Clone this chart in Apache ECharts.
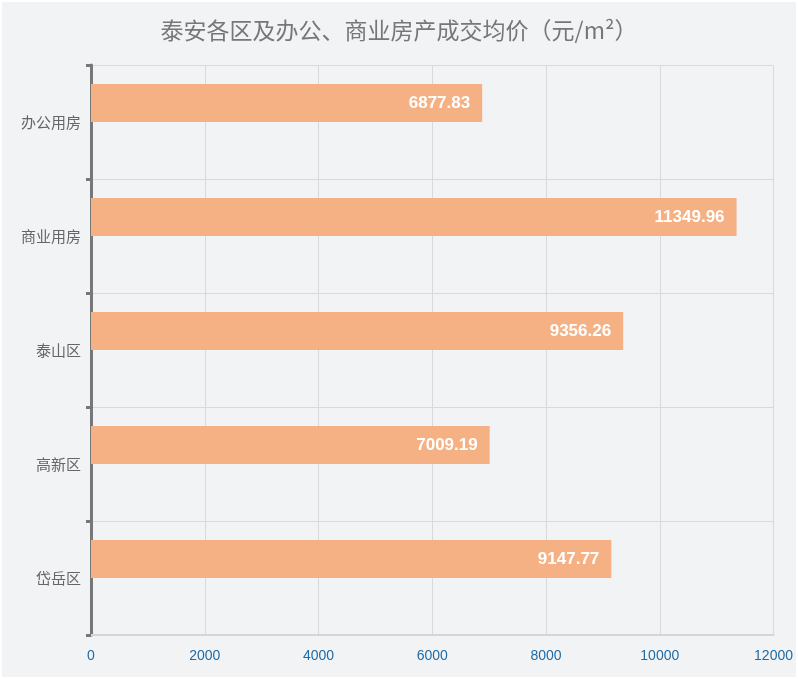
<!DOCTYPE html>
<html><head><meta charset="utf-8">
<script src="https://cdn.jsdelivr.net/npm/echarts@6/dist/echarts.min.js"></script>
<style>html,body{margin:0;padding:0;background:#fff;}#c{position:absolute;left:2px;top:2px;width:794px;height:675px;background:#f2f3f5;}</style>
</head><body><div id="c"></div>
<script>
const categories = ['岱岳区', '高新区', '泰山区', '商业用房', '办公用房'];
const values = [9147.77, 7009.19, 9356.26, 11349.96, 6877.83];
const placeholder = [null, null, null, null, null];
const titleText = '泰安各区及办公、商业房产成交均价（元/m²）';
const chart = echarts.init(document.getElementById('c'));
chart.setOption({
  backgroundColor: '#f2f3f5',
  title: {text: titleText, left: 'center', top: 12, textStyle: {color: '#777', fontSize: 23, fontWeight: 'normal', fontFamily: 'Noto Sans CJK SC'}},
  grid: {left: 89, right: 22, top: 63, bottom: 42},
  xAxis: {type: 'value', min: 0, max: 12000, interval: 2000,
    axisLine: {show: true, lineStyle: {color: '#d5d5d5', width: 2}},
    axisTick: {show: false},
    axisLabel: {color: '#1f6aa5', fontSize: 14, margin: 14, fontFamily: 'Liberation Sans', formatter: v => String(v)},
    splitLine: {show: true, lineStyle: {color: '#d9d9d9'}}},
  yAxis: {type: 'category', data: categories,
    axisLine: {lineStyle: {color: '#777', width: 3}},
    axisTick: {show: true, length: 5, lineStyle: {color: '#777', width: 3}},
    axisLabel: {color: '#666', fontSize: 15, margin: 10, fontFamily: 'Noto Sans CJK SC'},
    splitLine: {show: true, lineStyle: {color: '#d9d9d9'}}},
  series: [
    {type: 'bar', data: values, barWidth: 38, barGap: 0,
    itemStyle: {color: '#f5b183'},
    label: {show: true, position: 'insideRight', color: '#fff', fontSize: 17, fontWeight: 'bold', fontFamily: 'Liberation Sans', distance: 12}},
    {type: 'bar', data: placeholder, barWidth: 38, barGap: 0, silent: true}]
});
</script></body></html>
